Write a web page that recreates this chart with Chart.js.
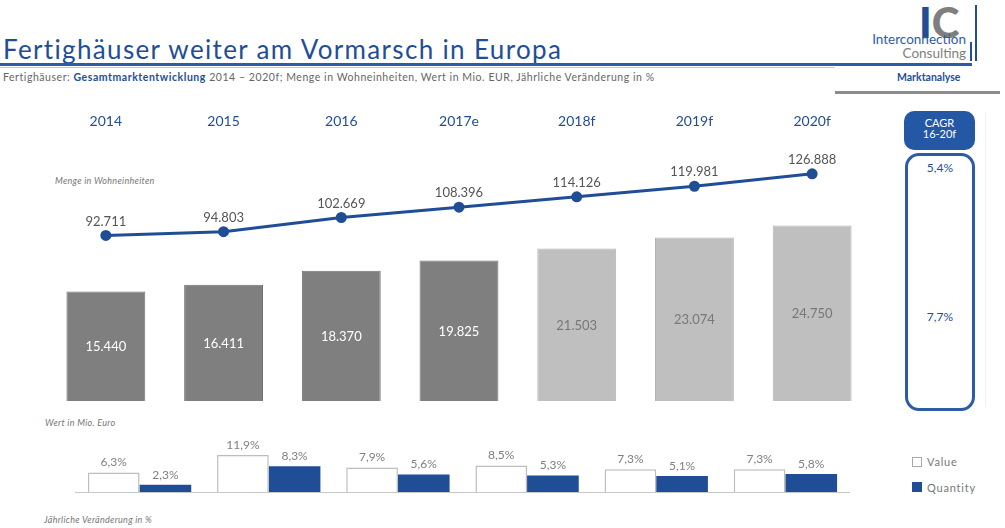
<!DOCTYPE html>
<html lang="de">
<head>
<meta charset="utf-8">
<title>Fertighäuser weiter am Vormarsch in Europa</title>
<script src="https://cdn.jsdelivr.net/npm/chart.js@4"></script>
<style>
  html, body { margin: 0; padding: 0; background: #fff; }
  body { position: relative; width: 1005px; height: 528px; overflow: hidden; font-family: Lato, sans-serif; }
  .abs { position: absolute; white-space: nowrap; }
  canvas { position: absolute; }
  .note { font-style: italic; font-size: 9px; color: #777; letter-spacing: .3px; }
</style>
</head>
<body>
  <div class="abs" style="left:3px;top:33px;font-size:26px;line-height:32px;color:#1f4e96;letter-spacing:1.35px;">Fertighäuser weiter am Vormarsch in Europa</div>
  <div class="abs" style="left:0;top:63px;width:972px;height:3px;background:#2c5ca6;"></div>
  <div class="abs" style="left:0;top:67px;width:835px;height:1px;background:#c8c8c8;"></div>
  <div class="abs" style="left:3px;top:70px;font-size:10.5px;line-height:14px;color:#666;letter-spacing:.55px;">Fertighäuser: <b style="color:#1f4e96;">Gesamtmarktentwicklung</b> 2014 – 2020f; Menge in Wohneinheiten, Wert in Mio. EUR, Jährliche Veränderung in %</div>
  <div class="abs" style="left:897px;top:70px;font-size:10.5px;line-height:14px;font-weight:bold;color:#1f4e96;">Marktanalyse</div>
  <div class="abs" style="left:835px;top:91px;width:165px;height:3px;background:#8c8c8c;"></div>

  <div class="abs" style="left:919px;top:0;font-size:42px;line-height:44px;font-weight:900;color:#1f4e96;">I<span style="color:#7f7f7f;">C</span></div>
  <div class="abs" style="right:39px;top:32px;font-size:13.5px;line-height:14px;color:#2c5ca6;text-align:right;">Interconnection<br><span style="color:#7f7f7f;">Consulting</span></div>
  <div class="abs" style="left:975px;top:5px;width:2px;height:56px;background:#1f4e96;"></div>
  <div class="abs" style="left:970px;top:42px;width:2px;height:19px;background:#1f4e96;"></div>

  <div class="abs note" style="left:55px;top:175px;">Menge in Wohneinheiten</div>
  <div class="abs note" style="left:45px;top:417px;">Wert in Mio. Euro</div>
  <div class="abs note" style="left:44px;top:514px;">Jährliche Veränderung in %</div>

  <canvas id="chartMain" style="left:40px;top:105px;"></canvas>
  <canvas id="chartGrowth" style="left:75px;top:440px;"></canvas>

  <div class="abs" style="left:904px;top:111px;width:71px;height:39px;border-radius:10px;background:#2458a5;color:#fff;font-size:11px;line-height:11px;text-align:center;padding-top:6px;box-sizing:border-box;">CAGR<br>16-20f</div>
  <div class="abs" style="left:905px;top:153px;width:70px;height:258px;box-sizing:border-box;border:3px solid #2c5ca6;border-radius:14px;"></div>
  <div class="abs" id="cagrQuantity" style="left:905px;width:70px;top:160px;text-align:center;font-size:12px;line-height:16px;color:#1f4e96;"></div>
  <div class="abs" id="cagrValue" style="left:905px;width:70px;top:309px;text-align:center;font-size:12px;line-height:16px;color:#1f4e96;"></div>
  <div class="abs" style="left:985px;top:112px;width:1px;height:295px;background:#f0f0f0;"></div>

  <div class="abs" style="left:912px;top:457px;width:8px;height:8px;border:1px solid #aaa;background:#fff;"></div>
  <div class="abs" style="left:927px;top:455px;font-size:11px;line-height:14px;color:#777;letter-spacing:.8px;">Value</div>
  <div class="abs" style="left:912px;top:482px;width:10px;height:10px;background:#1f4e96;"></div>
  <div class="abs" style="left:927px;top:481px;font-size:11px;line-height:14px;color:#777;letter-spacing:.8px;">Quantity</div>

<script>
const years = ["2014", "2015", "2016", "2017e", "2018f", "2019f", "2020f"];
const quantityUnits = [92711, 94803, 102669, 108396, 114126, 119981, 126888];
const valueMio = [15440, 16411, 18370, 19825, 21503, 23074, 24750];
const growthValue = [6.3, 11.9, 7.9, 8.5, 7.3, 7.3];
const growthQuantity = [2.3, 8.3, 5.6, 5.3, 5.1, 5.8];
const growthLabels = ["2015", "2016", "2017e", "2018f", "2019f", "2020f"];
const cagrQuantity = 5.4;
const cagrValue = 7.7;

const BLUE = "#1f4e96";
const FONT = "Lato, sans-serif";
const forecastStart = 4; // bars get lighter from 2018f on

const fmtInt = v => v.toLocaleString("de-DE");
const fmtPct = v => v.toFixed(1).replace(".", ",") + "%";

document.getElementById("cagrQuantity").textContent = fmtPct(cagrQuantity);
document.getElementById("cagrValue").textContent = fmtPct(cagrValue);

// writes the value next to each mark, settings come per dataset
const markLabels = {
  id: "markLabels",
  afterDatasetsDraw(chart) {
    const c = chart.ctx;
    chart.data.datasets.forEach((ds, i) => {
      const o = ds.labelOpts;
      if (!o) return;
      chart.getDatasetMeta(i).data.forEach((el, j) => {
        c.save();
        c.font = o.font;
        c.fillStyle = typeof o.color === "function" ? o.color(j) : o.color;
        c.textAlign = "center";
        c.textBaseline = "middle";
        const y = o.center ? (el.y + el.base) / 2 + 1 : el.y - o.offset;
        c.fillText(o.format(ds.data[j]), el.x, y);
        c.restore();
      });
    });
  }
};

Chart.defaults.animation = false;
Chart.defaults.responsive = false;
Chart.defaults.plugins.legend.display = false;
Chart.defaults.plugins.tooltip.enabled = false;

const mainCanvas = document.getElementById("chartMain");
mainCanvas.width = 838;
mainCanvas.height = 303;
new Chart(mainCanvas, {
  data: {
    labels: years,
    datasets: [
      {
        type: "line",
        data: quantityUnits,
        yAxisID: "yLine",
        borderColor: BLUE,
        backgroundColor: BLUE,
        borderWidth: 3,
        tension: 0,
        pointRadius: 4,
        order: 0,
        labelOpts: { font: `13px ${FONT}`, color: "#555", offset: 14, format: fmtInt }
      },
      {
        type: "bar",
        data: valueMio,
        yAxisID: "yBar",
        backgroundColor: ctx => ctx.dataIndex < forecastStart ? "#7f7f7f" : "#bfbfbf",
        borderColor: ctx => ctx.dataIndex < forecastStart ? "#737373" : "#b4b4b4",
        borderWidth: 1,
        barPercentage: 1,
        categoryPercentage: 0.67,
        order: 1,
        labelOpts: {
          font: `13px ${FONT}`,
          color: j => j < forecastStart ? "#fff" : "#777",
          center: true,
          format: fmtInt
        }
      }
    ]
  },
  options: {
    layout: { padding: 0 },
    scales: {
      x: {
        position: "top",
        grid: { display: false },
        border: { display: false },
        ticks: { color: BLUE, font: { size: 14, family: FONT }, padding: 8, maxRotation: 0 }
      },
      yBar: { display: false, min: 0, max: 36000 },
      yLine: { display: false, min: 1000, max: 142400 }
    }
  },
  plugins: [markLabels]
});

const growthCanvas = document.getElementById("chartGrowth");
growthCanvas.width = 775;
growthCanvas.height = 60;
new Chart(growthCanvas, {
  type: "bar",
  data: {
    labels: growthLabels,
    datasets: [
      {
        label: "Value",
        data: growthValue,
        backgroundColor: "#fff",
        borderColor: "#bdbdbd",
        borderWidth: 1.5,
        barPercentage: 1,
        categoryPercentage: 0.8,
        labelOpts: { font: `12px ${FONT}`, color: "#808080", offset: 10, format: fmtPct }
      },
      {
        label: "Quantity",
        data: growthQuantity,
        backgroundColor: BLUE,
        barPercentage: 1,
        categoryPercentage: 0.8,
        labelOpts: { font: `12px ${FONT}`, color: "#808080", offset: 10, format: fmtPct }
      }
    ]
  },
  options: {
    layout: { padding: 0 },
    scales: {
      x: {
        grid: { display: false },
        border: { color: "#c8c8c8", width: 1 },
        ticks: { display: false }
      },
      y: { display: false, min: 0, max: 16.7 }
    }
  },
  plugins: [markLabels]
});
</script>
</body>
</html>
